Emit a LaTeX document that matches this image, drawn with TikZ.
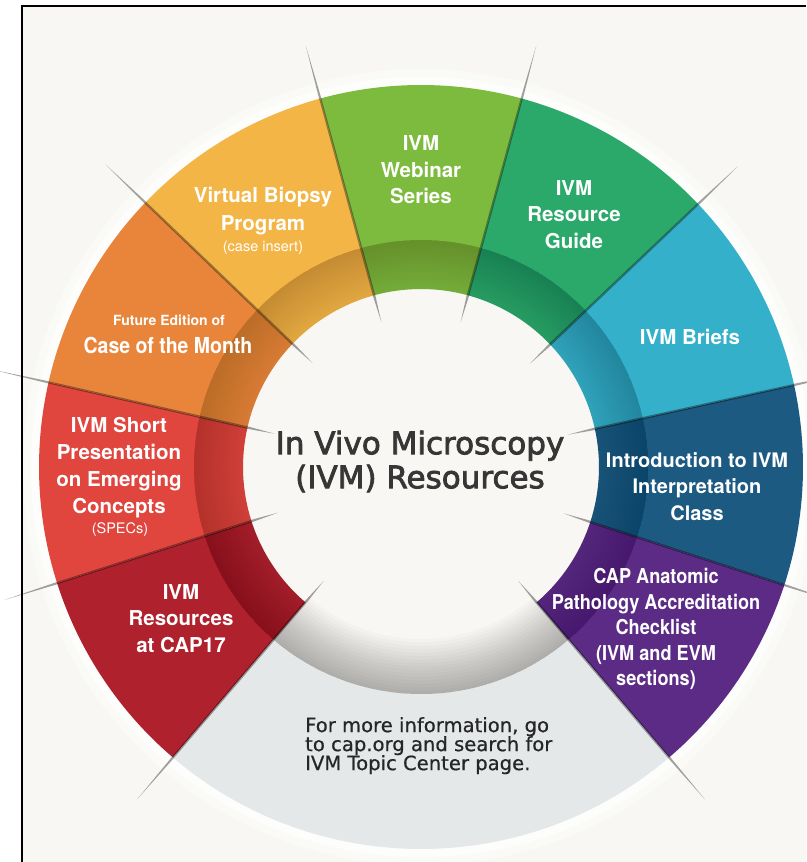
\documentclass[tikz,border=0pt]{standalone}
\usepackage{fontspec}
\setmainfont{TeX Gyre Heros}
\newfontfamily\condfont{TeX Gyre Heros}[FakeStretch=0.885]
\newfontfamily\titlefont{DejaVu Sans}[FakeBold=2.5]
\newfontfamily\notefont{DejaVu Sans}[FakeBold=0.6]

\definecolor{paper}{HTML}{F8F7F3}
\definecolor{cWeb}{HTML}{7DBB3E}
\definecolor{cGuide}{HTML}{2BA96A}
\definecolor{cBrief}{HTML}{34B0CA}
\definecolor{cIntro}{HTML}{1C5A82}
\definecolor{cCAP}{HTML}{5B2B86}
\definecolor{cInfo}{HTML}{E4E8E8}
\definecolor{cCapSeventeen}{HTML}{B0212E}
\definecolor{cShort}{HTML}{E0453E}
\definecolor{cCase}{HTML}{E9853A}
\definecolor{cBiopsy}{HTML}{F4B547}
\definecolor{titlegrey}{HTML}{363636}
\definecolor{notegrey}{HTML}{262626}

\begin{document}
\begin{tikzpicture}[x=1pt,y=1pt,
  lbl/.style={text=white, inner sep=0pt, align=center,
              font=\fontsize{20.5}{26.5}\selectfont\bfseries},
  smalllbl/.style={text=white, inner sep=0pt, font=\fontsize{14.5}{16}\selectfont},
  creasefill/.style={fill=black, opacity=0.36}]

\useasboundingbox (0,0) rectangle (806,862);
\fill[white] (0,0) rectangle (806,862);
\fill[paper] (21.5,0) rectangle (806,856);
\draw[line width=2pt, line join=miter] (21.5,0) -- (21.5,856) -- (806,856);

% ---- the wheel ----
\begin{scope}[shift={(421,395)}]
  % soft light halo round the outer rim
  \fill[white, opacity=0.8, even odd rule] (0,0) circle[radius=390] (0,0) circle[radius=381];
  \fill[white, opacity=0.4, even odd rule] (0,0) circle[radius=398] (0,0) circle[radius=389];
  % inner disc
  \fill[paper] (0,0) circle[radius=178];

  % coloured sectors: start angle/end angle/colour
  \foreach \a/\b/\c in {74.7/105.3/cWeb,
                        43.5/74.7/cGuide,
                        12.4/43.5/cBrief,
                        -18/12.4/cIntro,
                        -49.5/-18/cCAP,
                        197.7/229.5/cCapSeventeen,
                        167.2/197.7/cShort,
                        136.2/167.2/cCase,
                        105.3/136.2/cBiopsy}{
    \fill[\c] (\a:178) arc[start angle=\a, end angle=\b, radius=178]
      -- (\b:382) arc[start angle=\b, end angle=\a, radius=382] -- cycle;
    % darker inner band, deepening towards its outer edge
    \fill[black, opacity=0.07] (\a:178) arc[start angle=\a, end angle=\b, radius=178]
      -- (\b:227) arc[start angle=\b, end angle=\a, radius=227] -- cycle;
    \foreach \k in {0,...,13}{
      \pgfmathsetmacro{\r}{178+\k*3.5}
      \fill[black, opacity=0.0095] (\a:\r) arc[start angle=\a, end angle=\b, radius=\r]
        -- (\b:227) arc[start angle=\b, end angle=\a, radius=227] -- cycle;
    }
  }

  % bottom information sector with its grey inner band
  \fill[cInfo] (229.5:227) arc[start angle=229.5, end angle=310.5, radius=227]
    -- (310.5:382) arc[start angle=310.5, end angle=229.5, radius=382] -- cycle;
  \foreach \k in {0,...,15}{
    \pgfmathsetmacro{\r}{172+\k*3.45}
    \fill[black, opacity=0.02] (229.5:\r) arc[start angle=229.5, end angle=310.5, radius=\r]
      -- (310.5:227) arc[start angle=310.5, end angle=229.5, radius=227] -- cycle;
  }

  % thin creases between the sectors
  \foreach \t in {105.3,74.7,43.5,12.4,-18,-49.5,229.5,197.7,167.2,136.2}{
    \fill[creasefill] (\t:150) -- ({\t+0.4}:178) -- ({\t+0.17}:382) -- (\t:437)
      -- ({\t-0.17}:382) -- ({\t-0.4}:178) -- cycle;
  }
\end{scope}

% ---- texts ----
\node[lbl] (web) at (421,692) {IVM\\Webinar\\Series};
\node[lbl] (guide) at (574,647.5) {IVM\\Resource\\Guide};
\node[lbl] (briefs) at (690,525) {IVM Briefs};
\node[lbl, font=\fontsize{20}{26.5}\selectfont\bfseries] (intro) at (697,375.5)
  {Introduction to IVM\\Interpretation\\Class};
\node[lbl, font=\condfont\fontsize{20.5}{25.5}\selectfont\bfseries] (cap) at (656,233)
  {CAP Anatomic\\Pathology Accreditation\\Checklist\\(IVM and EVM\\sections)};
\node[lbl, font=\fontsize{20.5}{28}\selectfont\bfseries] (biopsy) at (263,651)
  {Virtual Biopsy\\Program};
\node[smalllbl] (caseins) at (263,614) {(case insert)};
\node[lbl, font=\fontsize{14}{16}\selectfont\bfseries] (future) at (169,542) {Future Edition of};
\node[lbl, font=\condfont\fontsize{22}{26}\selectfont\bfseries] (month) at (168,517) {Case of the Month};
\node[lbl, font=\fontsize{20.5}{27}\selectfont\bfseries] (short) at (119,394.5)
  {IVM Short\\Presentation\\on Emerging\\Concepts};
\node[smalllbl] (specs) at (120,332) {(SPECs)};
\node[lbl] (capseventeen) at (181,243.5) {IVM\\Resources\\at CAP17};

\node[inner sep=0pt, align=center, text=titlegrey,
      font=\titlefont\fontsize{31}{34}\selectfont] (title) at (420,400.5)
  {In Vivo Microscopy\\(IVM) Resources};

\node[inner sep=0pt, align=left, anchor=north west, text=notegrey,
      font=\notefont\fontsize{19.6}{19}\selectfont] (info) at (305,145)
  {For more information, go\\to cap.org and search for\\IVM Topic Center page.};
\end{tikzpicture}
\end{document}
